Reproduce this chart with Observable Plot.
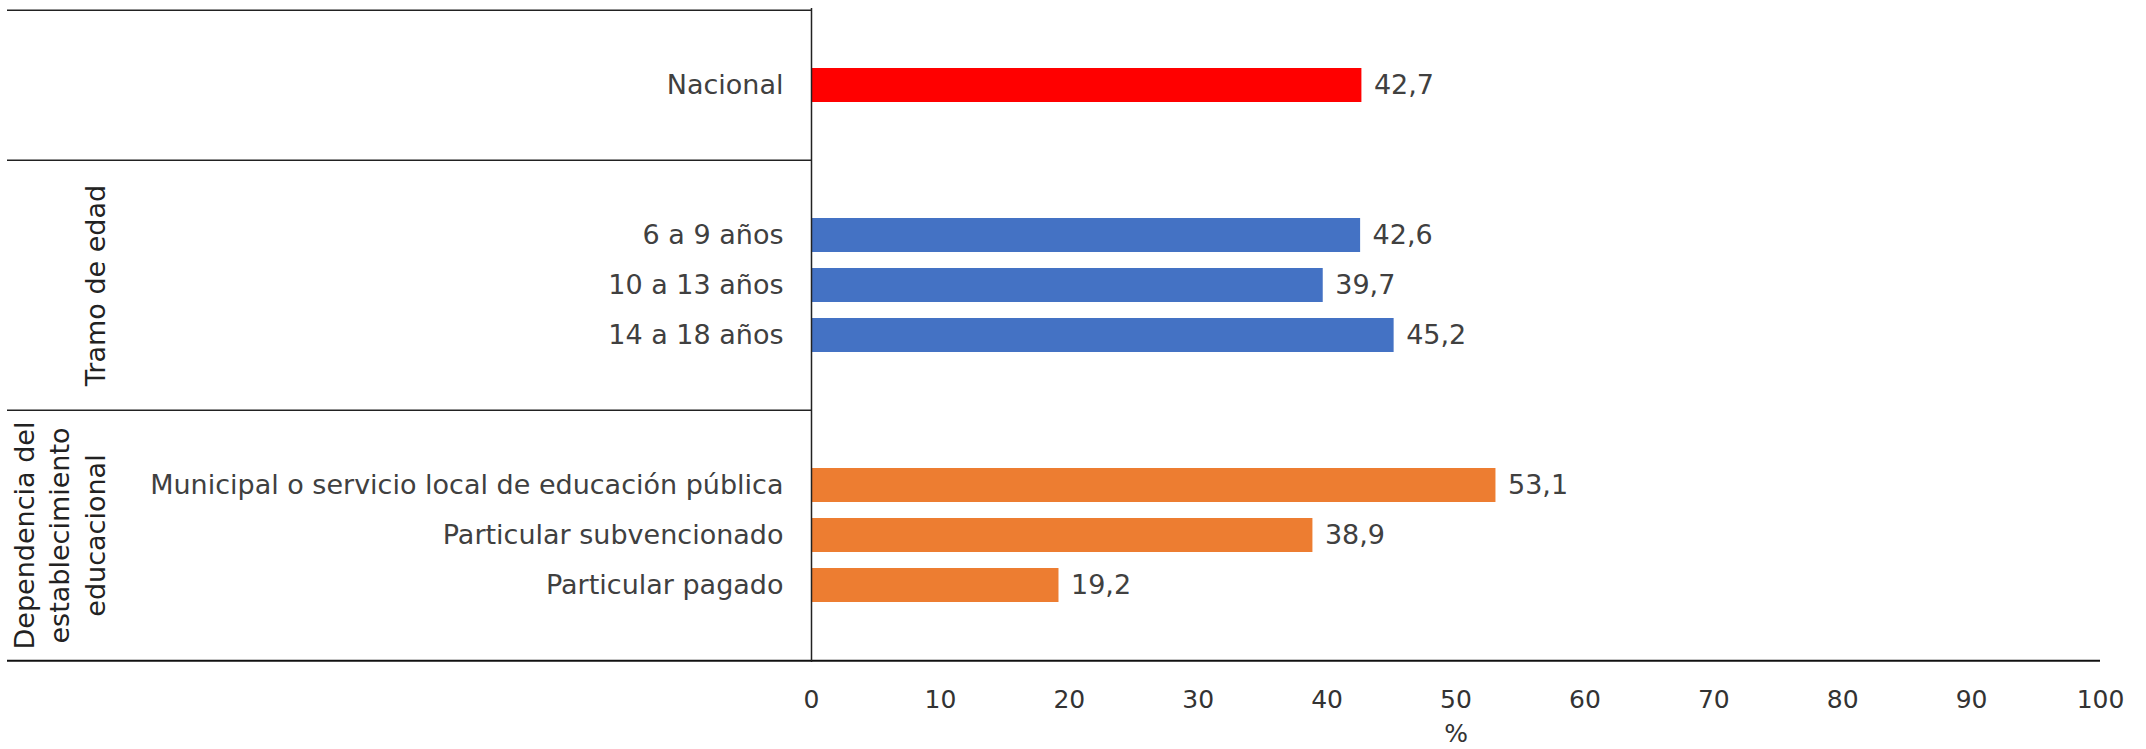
<!DOCTYPE html>
<html>
<head>
<meta charset="utf-8">
<script src="https://cdn.jsdelivr.net/npm/d3@7"></script>
<script src="https://cdn.jsdelivr.net/npm/@observablehq/plot@0.6"></script>
<style>
  html, body { margin: 0; padding: 0; background: #fff; }
</style>
</head>
<body>
<div id="chart"></div>
<script>
// ---- data ----
const categories = [
  "Nacional",
  "6 a 9 años", "10 a 13 años", "14 a 18 años",
  "Municipal o servicio local de educación pública", "Particular subvencionado", "Particular pagado"
];
const values = [42.7, 42.6, 39.7, 45.2, 53.1, 38.9, 19.2];
const groupOf = [
  "Nacional",
  "Tramo de edad", "Tramo de edad", "Tramo de edad",
  "Dependencia", "Dependencia", "Dependencia"
];
const groupNames = ["Nacional", "Tramo de edad", "Dependencia"];
const groupLabels = ["", "Tramo de edad", "Dependencia del\nestablecimiento\neducacional"];
const xTicks = [0, 10, 20, 30, 40, 50, 60, 70, 80, 90, 100];
const axisLabel = "%";

// ---- styles ----
const groupColors = ["#FF0000", "#4472C4", "#ED7D31"];
const W = 2146, H = 749, mL = 811, mR = 46, mT = 8, mB = 87;

const rows = categories.map((c, i) => ({cat: c, value: values[i], group: groupOf[i]}));

// band domain: one spacer before and after each group
const domain = [];
const groupTop = [];
let lastSpacer;
groupNames.forEach((g, gi) => {
  const top = `_${gi}a`, bot = `_${gi}b`;
  groupTop.push(top);
  domain.push(top, ...categories.filter((c, i) => groupOf[i] === g), bot);
  lastSpacer = bot;
});
const bw = (H - mT - mB) / domain.length;

const groupText = groupNames.map((g, gi) => {
  const cats = categories.filter((c, i) => groupOf[i] === g);
  return {label: groupLabels[gi], mid: cats[Math.floor(cats.length / 2)]};
}).filter(d => d.label);

const locale = d3.formatLocale({decimal: ",", thousands: ".", grouping: [3], currency: ["", ""]});
const fmt = locale.format(".1f");

const plot = Plot.plot({
  width: W, height: H,
  marginLeft: mL, marginRight: mR, marginTop: mT, marginBottom: mB,
  style: {fontFamily: "DejaVu Sans, Verdana, sans-serif", fontSize: "27px", color: "#333", background: "#fff"},
  x: {domain: [0, 100], axis: null},
  y: {type: "band", domain, padding: 0, axis: null},
  color: {domain: groupNames, range: groupColors},
  marks: [
    Plot.barX(rows, {x: "value", y: "cat", fill: "group", insetTop: 8, insetBottom: 8}),
    Plot.text(rows, {x: "value", y: "cat", text: d => fmt(d.value), textAnchor: "start", dx: 12, fill: "#404040", fontSize: 27}),
    Plot.axisY({tickSize: 0, tickPadding: 28, fontSize: 27, label: null, fill: "#404040",
      tickFormat: d => d.startsWith("_") ? "" : d}),
    Plot.axisX({ticks: xTicks, tickSize: 0, tickPadding: 28, fontSize: 25, label: null, fill: "#333"}),
    Plot.text([axisLabel], {text: d => d, frameAnchor: "bottom", lineAnchor: "top", dy: 62, fontSize: 25, fill: "#333"}),
    // group labels (rotated)
    Plot.text(groupText, {y: "mid", text: "label", frameAnchor: "left", dx: -707, rotate: -90,
      textAnchor: "middle", lineAnchor: "bottom", lineHeight: 1.3, fontSize: 27, fill: "#222"}),
    // frame lines
    Plot.ruleY(groupTop, {y: d => d, x2: 0, insetLeft: -(mL - 7), dy: -bw / 2, stroke: "#222", strokeWidth: 1.5}),
    Plot.ruleY([lastSpacer], {y: d => d, insetLeft: -(mL - 7), dy: bw / 2, stroke: "#111", strokeWidth: 2}),
    Plot.ruleX([0], {stroke: "#222", strokeWidth: 1.5})
  ]
});
document.getElementById("chart").appendChild(plot);
</script>
</body>
</html>
